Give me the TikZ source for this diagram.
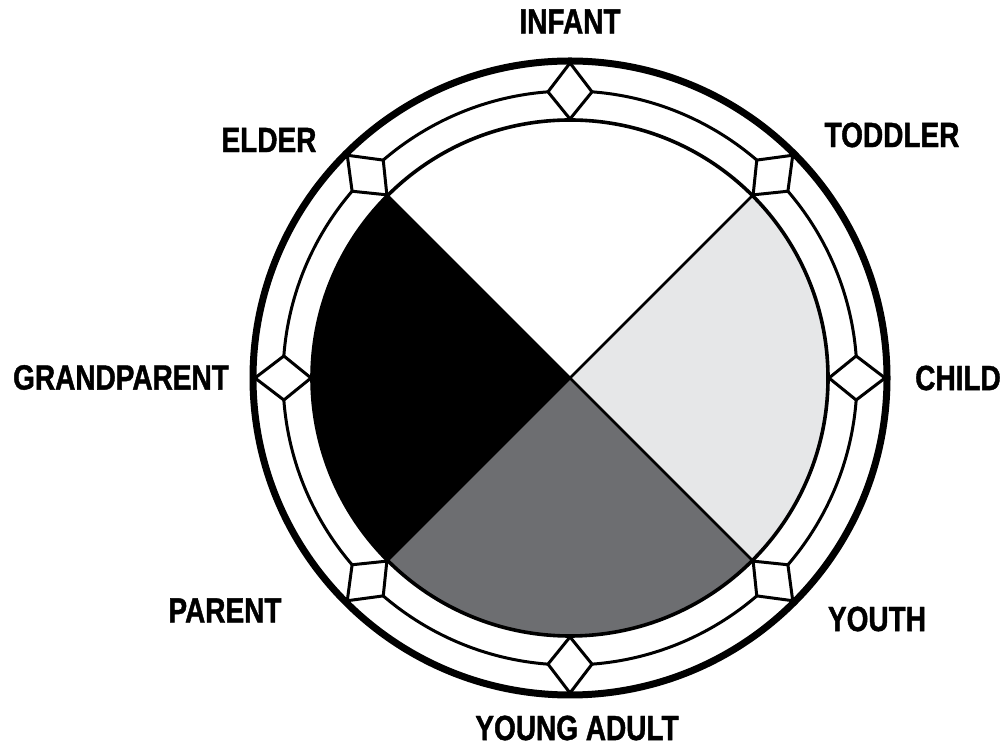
\documentclass[tikz,border=0pt]{standalone}
\usepackage{fontspec}
\setmainfont{Liberation Sans}[FakeStretch=0.8, BoldFeatures={FakeBold=1.2}]
\usetikzlibrary{calc}
\definecolor{lifelight}{HTML}{E6E7E8}
\definecolor{lifedark}{HTML}{6D6E71}

\begin{document}
\begin{tikzpicture}[x=1pt, y=1pt,
    stage/.style={font=\fontsize{35}{40}\selectfont\bfseries, inner sep=0pt},
    ringline/.style={draw=black},
    gem/.style={fill=white, draw=black, line width=3pt, line join=miter}]
  \useasboundingbox (0,0) rectangle (1003,746);
  \coordinate (ctr) at (570,368);

  % four quarters of the wheel
  \fill[white] (ctr) -- ++(45:258) arc[start angle=45, end angle=135, radius=258] -- cycle;
  \fill[lifelight] (ctr) -- ++(-45:258) arc[start angle=-45, end angle=45, radius=258] -- cycle;
  \fill[lifedark] (ctr) -- ++(-135:258) arc[start angle=-135, end angle=-45, radius=258] -- cycle;
  \fill[black] (ctr) -- ++(135:258) arc[start angle=135, end angle=225, radius=258] -- cycle;
  \draw[line width=2.5pt] ($(ctr)+(45:258)$) -- ($(ctr)+(225:258)$);
  \draw[line width=2.5pt] ($(ctr)+(135:258)$) -- ($(ctr)+(-45:258)$);

  % rings
  \draw[ringline, line width=3.6pt] (ctr) circle[radius=258];
  \draw[ringline, line width=3pt] (ctr) circle[radius=287];
  \draw[ringline, line width=7pt] (ctr) circle[radius=317];

  % diamonds on the rings
  \foreach \a in {0,45,...,315}
    \path[gem] ($(ctr)+(\a:315)$) -- ($(ctr)+(\a+4.4:287)$)
      -- ($(ctr)+(\a:259)$) -- ($(ctr)+(\a-4.4:287)$) -- cycle;

  % stages
  \node[stage] (infant) at (570,724.5) {INFANT};
  \node[stage] (toddler) at (892,611) {TODDLER};
  \node[stage] (child) at (958,368) {CHILD};
  \node[stage] (youth) at (877,127) {YOUTH};
  \node[stage] (young) at (577,18) {YOUNG ADULT};
  \node[stage] (parent) at (225,135.5) {PARENT};
  \node[stage] (grand) at (121,368.5) {GRANDPARENT};
  \node[stage] (elder) at (269,606) {ELDER};
\end{tikzpicture}
\end{document}
